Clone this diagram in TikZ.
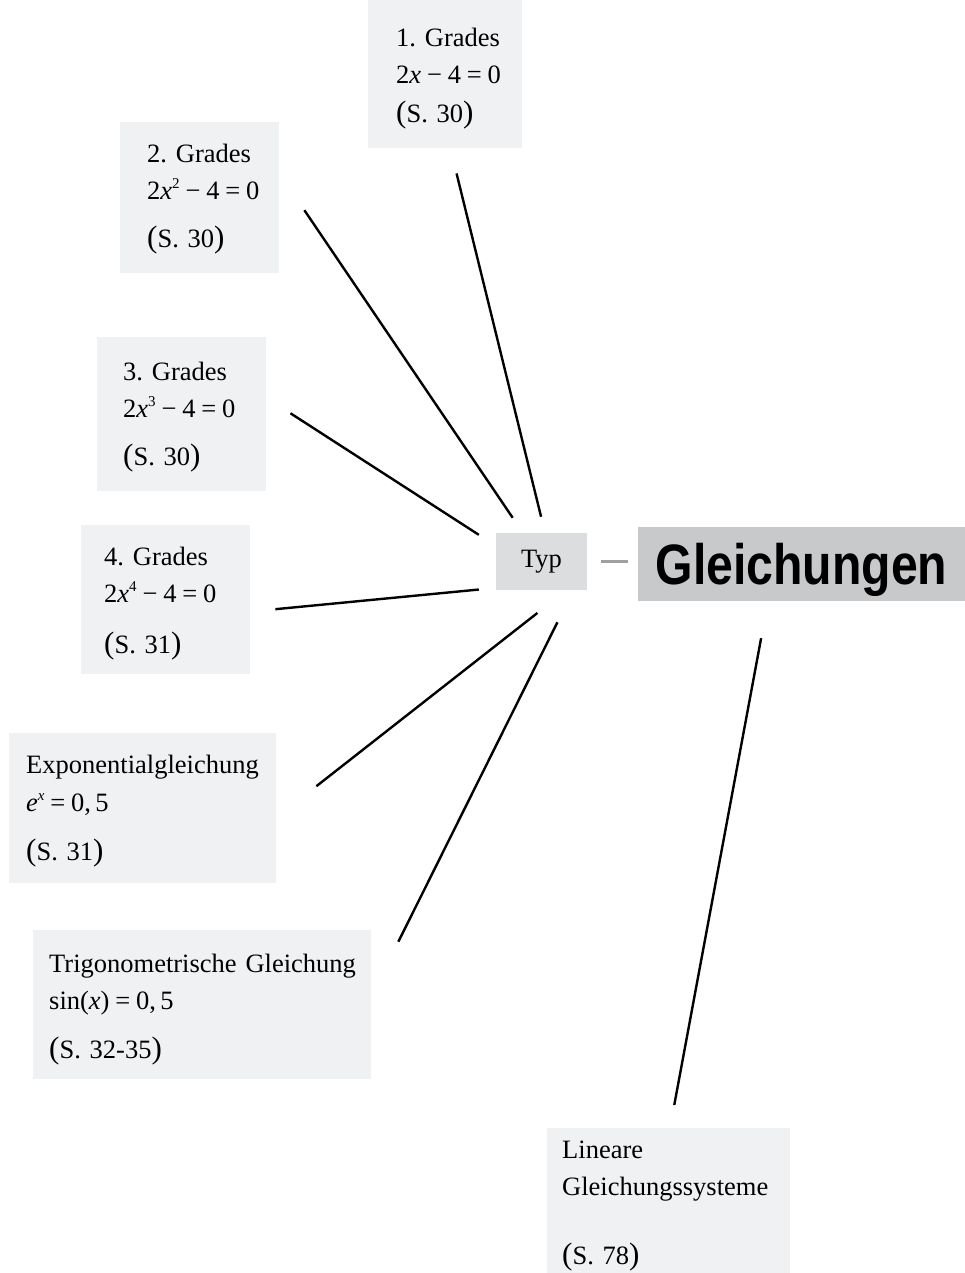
\documentclass[tikz,border=0pt]{standalone}
\usepackage{fontspec}
\setmainfont{Liberation Serif}
\newfontfamily\titelfont[FakeStretch=0.845]{Liberation Sans}
\usetikzlibrary{positioning}
\definecolor{kartegrau}{RGB}{240,241,243}
\definecolor{typgrau}{RGB}{220,221,223}
\definecolor{titelgrau}{RGB}{200,201,203}
\definecolor{stummelgrau}{RGB}{160,160,162}
\frenchspacing
\newcommand{\xv}{\textit{x}}
\newcommand{\abst}{\kern0.22em\relax}
\newcommand{\hoch}[1]{\raisebox{0.42em}{\fontsize{15}{15}\selectfont #1}}
\newcommand{\seite}[1]{{\fontsize{31}{31}\selectfont(}S.~#1{\fontsize{31}{31}\selectfont)}}
\tikzset{
  karte/.style={rectangle, fill=kartegrau, anchor=north west, inner ysep=0pt, align=left,
    font={\fontsize{26.5}{37}\selectfont\hyphenpenalty=10000\relax}},
  typbox/.style={rectangle, fill=typgrau, minimum width=91pt, minimum height=57pt,
    inner sep=0pt, font=\fontsize{26.5}{30}\selectfont},
  titel/.style={rectangle, fill=titelgrau, minimum width=327pt, minimum height=74pt,
    inner sep=0pt, text depth=0pt, font=\titelfont\bfseries\fontsize{57}{60}\selectfont},
  ast/.style={black, line width=2.4pt},
  stummel/.style={stummelgrau, line width=2.5pt}
}
\begin{document}
\begin{tikzpicture}[x=1pt,y=-1pt]
  \useasboundingbox (0,0) rectangle (965,1273);
  % Typ und Hauptthema
  \node[typbox] (typ) at (541.5,561.5) {Typ};
  \node[titel] (glei) at (801.5,564) {Gleichungen};
  % Karten mit den Gleichungstypen (links oben nach unten)
  \node[karte, text width=98pt, inner xsep=28pt, text height=46pt, text depth=102pt] (grad1) at (368,0)
    {1.~Grades\\2\xv\abst−\abst4\abst=\abst0\\[2pt]\seite{30}};
  \node[karte, text width=105pt, inner xsep=27pt, text height=40pt, text depth=111pt] (grad2) at (120,122)
    {2.~Grades\\2\xv\hoch{2}\abst−\abst4\abst=\abst0\\[11pt]\seite{30}};
  \node[karte, text width=117pt, inner xsep=26pt, text height=43pt, text depth=111pt] (grad3) at (97,337)
    {3.~Grades\\2\xv\hoch{3}\abst−\abst4\abst=\abst0\\[11pt]\seite{30}};
  \node[karte, text width=123pt, inner xsep=23pt, text height=40pt, text depth=109pt] (grad4) at (81,525)
    {4.~Grades\\2\xv\hoch{4}\abst−\abst4\abst=\abst0\\[14pt]\seite{31}};
  \node[karte, text width=233pt, inner xsep=17pt, text height=40pt, text depth=110pt] (expo) at (9,733)
    {Exponentialgleichung\\[1pt]\textit{e}\hoch{\textit{x}}\abst=\abst0,\,5\\[12pt]\seite{31}};
  \node[karte, text width=306pt, inner xsep=16pt, text height=42pt, text depth=107pt] (trig) at (33,930)
    {Trigonometrische~Gleichung\\sin(\xv)\abst=\abst0,\,5\\[12pt]\seite{32-35}};
  % Gleichungssysteme haengen direkt am Hauptthema
  \node[karte, text width=213pt, inner xsep=15pt, text height=30pt, text depth=115pt] (lgs) at (547,1128)
    {Lineare\\Gleichungssysteme\\[32pt]\seite{78}};
  % Verbindungen
  \draw[stummel, shorten <=14pt, shorten >=10pt] (typ.east) -- (typ.east -| glei.west);
  \draw[ast, shorten <=16.5pt, shorten >=25.8pt] (typ.83) -- (grad1.274);
  \draw[ast, shorten <=18.1pt, shorten >=44.5pt] (typ.123) -- (grad2.17);
  \draw[ast, shorten <=20.2pt, shorten >=28.6pt] (typ.161) -- (grad3.11);
  \draw[ast, shorten <=17.1pt, shorten >=25.1pt] (typ.210) -- (grad4.352);
  \draw[ast, shorten <=36.9pt, shorten >=50.8pt] (typ.311) -- (expo.356);
  \draw[ast, shorten <=35.8pt, shorten >=60.5pt] (typ.318) -- (trig.3);
  \draw[ast, shorten <=37.6pt, shorten >=23.4pt] (glei.228) -- (lgs.89);
\end{tikzpicture}
\end{document}
